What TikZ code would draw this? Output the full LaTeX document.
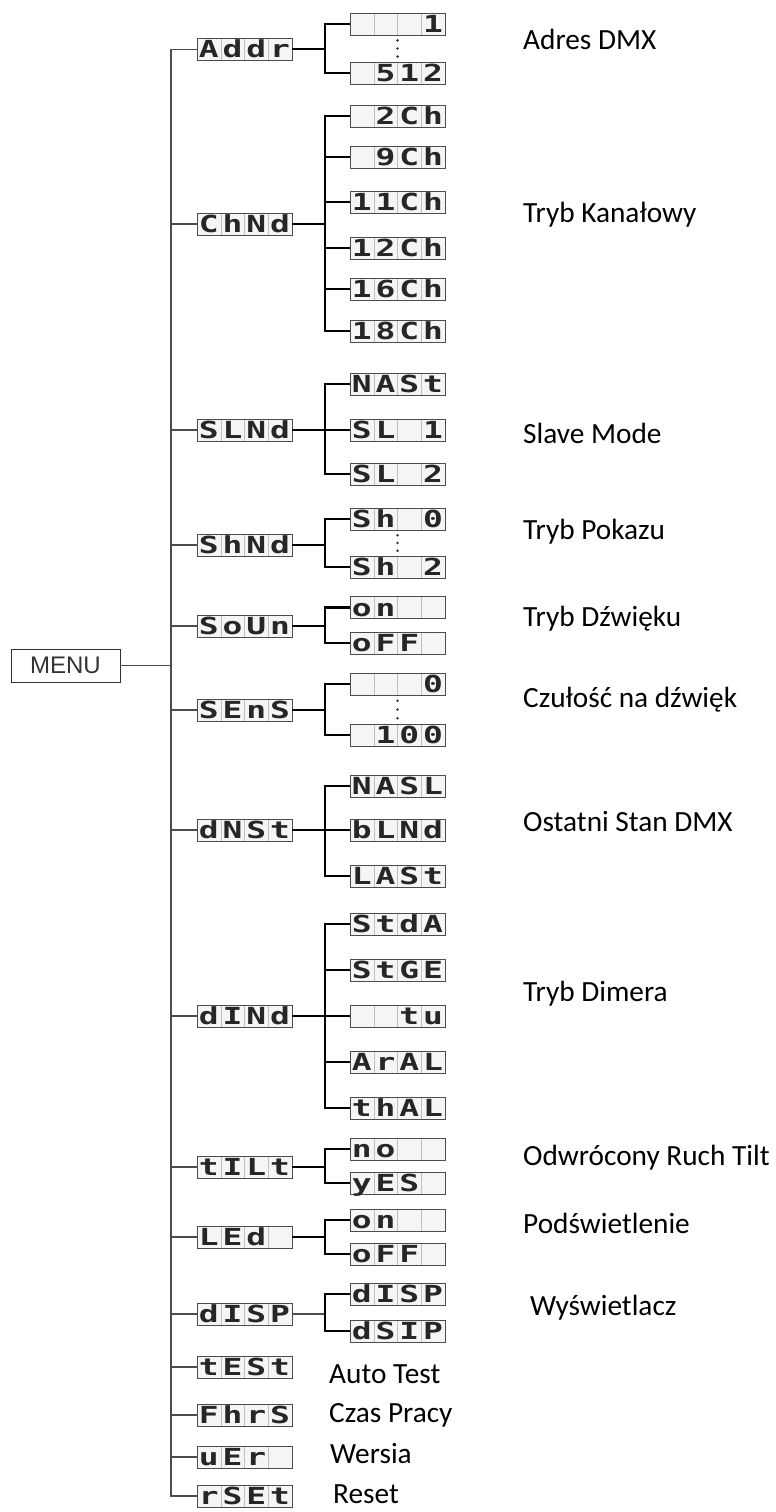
\documentclass[tikz,border=0pt]{standalone}
\usepackage{fontspec}
\usetikzlibrary{calc}
\newfontfamily\lab{Carlito}
\newfontfamily\seg[FakeStretch=1.4]{DejaVu Sans Mono}
\newfontfamily\menufont{Liberation Sans}
\newcommand\cellbox[1]{\makebox[23.75pt][c]{#1}}
\newcommand\lcdtext[4]{\smash{\raisebox{-8.5pt}{\seg\bfseries\fontsize{23.5}{23.5}\selectfont\cellbox{#1}\cellbox{#2}\cellbox{#3}\cellbox{#4}}}}
\tikzset{
  lcd/.style={draw=black!70, line width=0.8pt, fill=black!4, text=black!85,
    minimum width=95pt, minimum height=22pt, inner sep=0pt, outer sep=0pt,
    path picture={\foreach \i in {1,2,3}{\draw[black!25, line width=0.5pt]
      ($(path picture bounding box.south west)!\i/4!(path picture bounding box.south east)$) --
      ($(path picture bounding box.north west)!\i/4!(path picture bounding box.north east)$);}}},
  trunkline/.style={draw=black!70, line width=1.2pt},
  bracket/.style={draw=black, line width=2.4pt},
  feed/.style={draw=black, line width=2pt},
  lbl/.style={anchor=base west, inner sep=0pt, font=\lab\fontsize{29.3}{31}\selectfont},
  menubox/.style={draw=black!80, line width=0.9pt, minimum width=109pt, minimum height=33pt,
    inner sep=0pt, font=\menufont\fontsize{24}{24}\selectfont, text=black!80},
  dotmark/.style={fill=black!80}
}
\begin{document}
\begin{tikzpicture}[x=1pt,y=-1pt]
\useasboundingbox (0,0) rectangle (776,1512);
\fill[white] (0,0) rectangle (776,1512);
\coordinate (tx) at (171,0);
\coordinate (bx) at (325,0);
% MENU
\node[menubox] (menu) at (65.5,665.5) {MENU};
% level 1
\node[lcd] (addr) at (244.5,49.5) {\lcdtext{A}{d}{d}{r}};
\node[lcd] (chnd) at (244.5,224) {\lcdtext{C}{h}{N}{d}};
\node[lcd] (slnd) at (244.5,430) {\lcdtext{S}{L}{N}{d}};
\node[lcd] (shnd) at (244.5,545) {\lcdtext{S}{h}{N}{d}};
\node[lcd] (soun) at (244.5,626) {\lcdtext{S}{o}{U}{n}};
\node[lcd] (sens) at (244.5,710) {\lcdtext{S}{E}{n}{S}};
\node[lcd] (dnst) at (244.5,830) {\lcdtext{d}{N}{S}{t}};
\node[lcd] (dind) at (244.5,1016) {\lcdtext{d}{I}{N}{d}};
\node[lcd] (tilt) at (244.5,1167) {\lcdtext{t}{I}{L}{t}};
\node[lcd] (led) at (244.5,1237) {\lcdtext{L}{E}{d}{}};
\node[lcd] (disp) at (244.5,1314) {\lcdtext{d}{I}{S}{P}};
\node[lcd] (test) at (244.5,1367) {\lcdtext{t}{E}{S}{t}};
\node[lcd] (fhrs) at (244.5,1415) {\lcdtext{F}{h}{r}{S}};
\node[lcd] (uer) at (244.5,1457) {\lcdtext{u}{E}{r}{}};
\node[lcd] (rset) at (244.5,1496) {\lcdtext{r}{S}{E}{t}};
% level 2
\node[lcd] (a1) at (397.5,24) {\lcdtext{}{}{}{1}};
\node[lcd] (a512) at (397.5,73) {\lcdtext{}{5}{1}{2}};
\node[lcd] (c2) at (397.5,116) {\lcdtext{}{2}{C}{h}};
\node[lcd] (c9) at (397.5,157) {\lcdtext{}{9}{C}{h}};
\node[lcd] (c11) at (397.5,202) {\lcdtext{1}{1}{C}{h}};
\node[lcd] (c12) at (397.5,248) {\lcdtext{1}{2}{C}{h}};
\node[lcd] (c16) at (397.5,289) {\lcdtext{1}{6}{C}{h}};
\node[lcd] (c18) at (397.5,331) {\lcdtext{1}{8}{C}{h}};
\node[lcd] (nast) at (397.5,384) {\lcdtext{N}{A}{S}{t}};
\node[lcd] (sl1) at (397.5,430) {\lcdtext{S}{L}{}{1}};
\node[lcd] (sl2) at (397.5,474) {\lcdtext{S}{L}{}{2}};
\node[lcd] (sh0) at (397.5,519) {\lcdtext{S}{h}{}{0}};
\node[lcd] (sh2) at (397.5,567) {\lcdtext{S}{h}{}{2}};
\node[lcd] (son) at (397.5,607.5) {\lcdtext{o}{n}{}{}};
\node[lcd] (soff) at (397.5,643) {\lcdtext{o}{F}{F}{}};
\node[lcd] (s0) at (397.5,684) {\lcdtext{}{}{}{0}};
\node[lcd] (s100) at (397.5,735) {\lcdtext{}{1}{0}{0}};
\node[lcd] (nasl) at (397.5,786) {\lcdtext{N}{A}{S}{L}};
\node[lcd] (blnd) at (397.5,830) {\lcdtext{b}{L}{N}{d}};
\node[lcd] (last) at (397.5,876) {\lcdtext{L}{A}{S}{t}};
\node[lcd] (stda) at (397.5,924) {\lcdtext{S}{t}{d}{A}};
\node[lcd] (stge) at (397.5,970) {\lcdtext{S}{t}{G}{E}};
\node[lcd] (tu) at (397.5,1016) {\lcdtext{}{}{t}{u}};
\node[lcd] (aral) at (397.5,1062) {\lcdtext{A}{r}{A}{L}};
\node[lcd] (thal) at (397.5,1108) {\lcdtext{t}{h}{A}{L}};
\node[lcd] (tno) at (397.5,1149) {\lcdtext{n}{o}{}{}};
\node[lcd] (tyes) at (397.5,1183) {\lcdtext{y}{E}{S}{}};
\node[lcd] (lon) at (397.5,1220) {\lcdtext{o}{n}{}{}};
\node[lcd] (loff) at (397.5,1254) {\lcdtext{o}{F}{F}{}};
\node[lcd] (d1) at (397.5,1294) {\lcdtext{d}{I}{S}{P}};
\node[lcd] (d2) at (397.5,1331) {\lcdtext{d}{S}{I}{P}};
% trunk
\draw[trunkline] (addr.west) -- (addr.west -| tx) -- (rset.west -| tx) -- (rset.west);
\foreach \n in {chnd,slnd,shnd,soun,sens,dnst,dind,tilt,led,disp,test,fhrs,uer}
  \draw[trunkline] (\n.west) -- (\n.west -| tx);
\draw[trunkline] (menu.east) -- (menu.east -| tx);
% feeds
\foreach \n in {addr,chnd,slnd,shnd,soun,sens,dnst,dind,tilt,led}
  \draw[feed] (\n.east) -- (\n.east -| bx);
\draw[trunkline] (disp.east) -- (disp.east -| bx);
% brackets
\draw[bracket] (a1.west) -- (a1.west -| bx) -- (a512.west -| bx) -- (a512.west);
\draw[bracket] (c2.west) -- (c2.west -| bx) -- (c18.west -| bx) -- (c18.west);
\foreach \n in {c9,c11,c12,c16} \draw[bracket] (\n.west) -- (\n.west -| bx);
\draw[bracket] (nast.west) -- (nast.west -| bx) -- (sl2.west -| bx) -- (sl2.west);
\draw[bracket] (sl1.west) -- (sl1.west -| bx);
\draw[bracket] (sh0.west) -- (sh0.west -| bx) -- (sh2.west -| bx) -- (sh2.west);
\draw[bracket] (son.west) -- (son.west -| bx) -- (soff.west -| bx) -- (soff.west);
\draw[bracket] (s0.west) -- (s0.west -| bx) -- (s100.west -| bx) -- (s100.west);
\draw[bracket] (nasl.west) -- (nasl.west -| bx) -- (last.west -| bx) -- (last.west);
\draw[bracket] (blnd.west) -- (blnd.west -| bx);
\draw[bracket] (stda.west) -- (stda.west -| bx) -- (thal.west -| bx) -- (thal.west);
\foreach \n in {stge,tu,aral} \draw[bracket] (\n.west) -- (\n.west -| bx);
\draw[bracket] (tno.west) -- (tno.west -| bx) -- (tyes.west -| bx) -- (tyes.west);
\draw[bracket] (lon.west) -- (lon.west -| bx) -- (loff.west -| bx) -- (loff.west);
\draw[bracket] (d1.west) -- (d1.west -| bx) -- (d2.west -| bx) -- (d2.west);
% ellipsis dots
\foreach \f in {0.2,0.5,0.8} {
  \fill[dotmark] ($(a1.south)!\f!(a512.north)$) circle (1.4pt);
  \fill[dotmark] ($(sh0.south)!\f!(sh2.north)$) circle (1.4pt);
  \fill[dotmark] ($(s0.south)!\f!(s100.north)$) circle (1.4pt);
}
% labels
\node[lbl] (l1) at (523,50) {Adres DMX};
\node[lbl] (l2) at (523,222) {Tryb Kanałowy};
\node[lbl] (l3) at (523,443) {Slave Mode};
\node[lbl] (l4) at (523,539) {Tryb Pokazu};
\node[lbl] (l5) at (523,626) {Tryb Dźwięku};
\node[lbl] (l6) at (523,707) {Czułość na dźwięk};
\node[lbl] (l7) at (523,831) {Ostatni Stan DMX};
\node[lbl] (l8) at (523,1001) {Tryb Dimera};
\node[lbl] (l9) at (523,1165) {Odwrócony Ruch Tilt};
\node[lbl] (l10) at (523,1233) {Podświetlenie};
\node[lbl] (l11) at (530,1315) {Wyświetlacz};
\node[lbl] (l12) at (329,1383) {Auto Test};
\node[lbl] (l13) at (329,1422) {Czas Pracy};
\node[lbl] (l14) at (330,1463) {Wersia};
\node[lbl] (l15) at (333,1503) {Reset};
\end{tikzpicture}
\end{document}
